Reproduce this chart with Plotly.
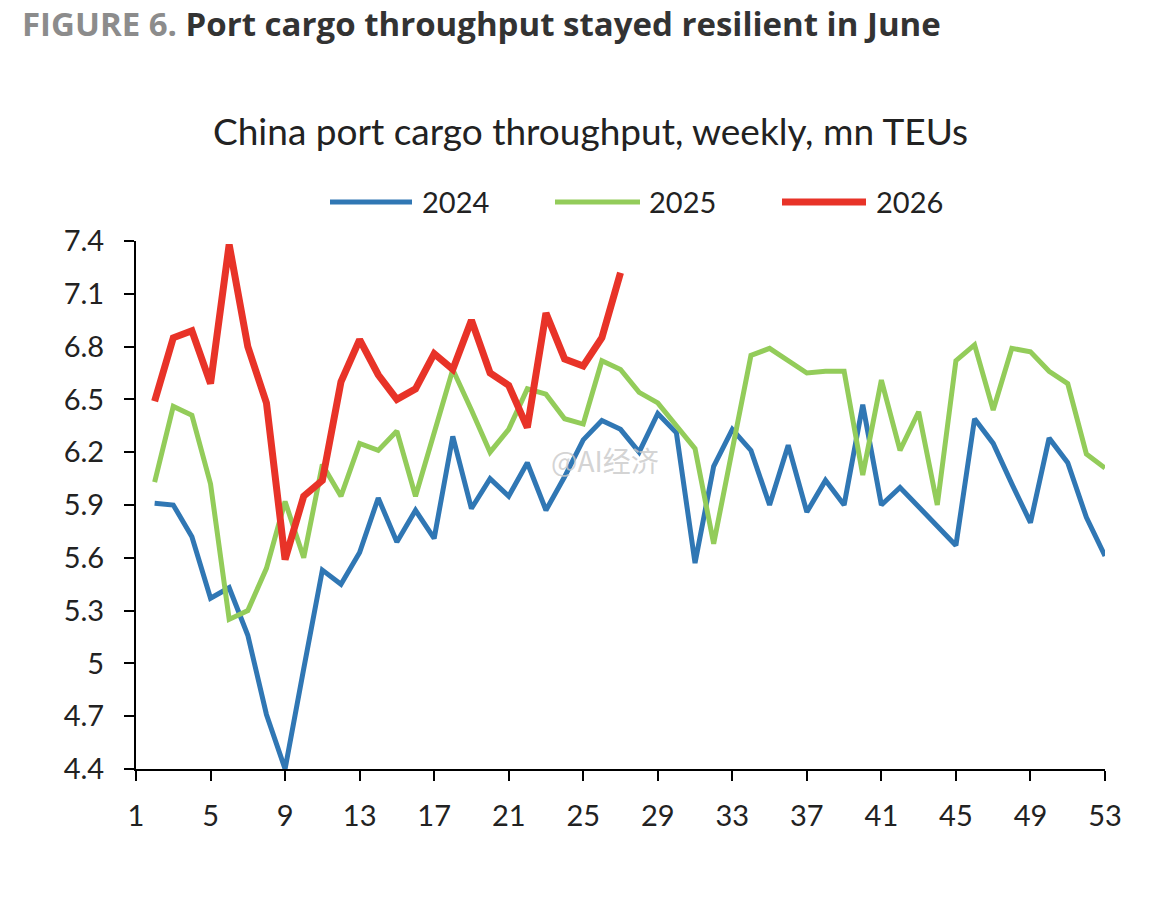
import plotly.graph_objects as go

weeks = list(range(2, 54))
y2024 = [5.91, 5.90, 5.72, 5.37, 5.43, 5.16, 4.71, 4.40, 4.97, 5.53, 5.45, 5.63, 5.94, 5.69,
         5.87, 5.71, 6.29, 5.88, 6.05, 5.95, 6.14, 5.87, 6.06, 6.27, 6.38, 6.33, 6.20, 6.42,
         6.31, 5.57, 6.12, 6.33, 6.21, 5.90, 6.24, 5.86, 6.04, 5.90, 6.47, 5.90, 6.00, 5.89,
         5.78, 5.67, 6.39, 6.25, 6.02, 5.80, 6.28, 6.14, 5.83, 5.61]
y2025 = [6.03, 6.46, 6.41, 6.02, 5.25, 5.30, 5.54, 5.92, 5.60, 6.13, 5.95, 6.25, 6.21, 6.32,
         5.95, 6.31, 6.67, 6.44, 6.20, 6.33, 6.56, 6.53, 6.39, 6.36, 6.72, 6.67, 6.54, 6.48,
         6.35, 6.22, 5.68, 6.21, 6.75, 6.79, 6.72, 6.65, 6.66, 6.66, 6.07, 6.61, 6.21, 6.43,
         5.90, 6.72, 6.81, 6.44, 6.79, 6.77, 6.66, 6.59, 6.19, 6.11]
weeks2026 = list(range(2, 28))
y2026 = [6.49, 6.85, 6.89, 6.59, 7.38, 6.80, 6.48, 5.59, 5.95, 6.04, 6.60, 6.84, 6.64, 6.50,
         6.56, 6.76, 6.67, 6.95, 6.65, 6.58, 6.34, 6.99, 6.73, 6.69, 6.85, 7.22]

x_ticks = list(range(1, 54, 4))
y_ticks = [4.4, 4.7, 5.0, 5.3, 5.6, 5.9, 6.2, 6.5, 6.8, 7.1, 7.4]
y_ticktext = ["4.4", "4.7", "5", "5.3", "5.6", "5.9", "6.2", "6.5", "6.8", "7.1", "7.4"]

series = [
    ("2024", weeks, y2024, "#3077B4", 5),
    ("2025", weeks, y2025, "#93CC5A", 5),
    ("2026", weeks2026, y2026, "#E83328", 7),
]

FONT = "Lato, Noto Sans, sans-serif"

fig = go.Figure()
for name, xs, ys, color, w in series:
    fig.add_trace(go.Scatter(x=xs, y=ys, mode="lines", name=name,
                             line=dict(color=color, width=w), showlegend=False))

# plot area geometry (pixels)
L, R, T, B = 136, 1105, 241, 769
W, H = 1170, 911

def px_x(px):
    return (px - L) / (R - L)

def px_y(py):
    return (B - py) / (B - T)

annotations = []
shapes = []
# legend drawn manually
leg = [(330, 412, 420), (555, 640, 647), (782, 866, 874)]
for (name, xs, ys, color, w), (x0, x1, xt) in zip(series, leg):
    shapes.append(dict(type="line", xref="paper", yref="paper",
                       x0=px_x(x0), x1=px_x(x1), y0=px_y(202), y1=px_y(202),
                       line=dict(color=color, width=w)))
    annotations.append(dict(text=name, xref="paper", yref="paper", x=px_x(xt), y=px_y(202),
                            xanchor="left", yanchor="middle", showarrow=False,
                            font=dict(family=FONT, size=29, color="#222222")))

annotations.append(dict(
    text="<b><span style='color:#8c8c8c'>FIGURE 6.</span> Port cargo throughput stayed resilient in June</b>",
    xref="paper", yref="paper", x=px_x(20), y=px_y(23), xanchor="left", yanchor="middle",
    showarrow=False, font=dict(family="Open Sans, sans-serif", size=33, color="#333333")))
annotations.append(dict(
    text="China port cargo throughput, weekly, mn TEUs",
    xref="paper", yref="paper", x=px_x(590), y=px_y(130), xanchor="center", yanchor="middle",
    showarrow=False, font=dict(family=FONT, size=37, color="#222222")))
annotations.append(dict(
    text="@AI经济", xref="paper", yref="paper", x=px_x(605), y=px_y(460),
    xanchor="center", yanchor="middle", showarrow=False,
    font=dict(family="Noto Sans CJK SC, sans-serif", size=28, color="rgba(200,200,200,0.8)")))

fig.update_layout(
    width=W, height=H,
    margin=dict(l=L, r=W - R, t=T, b=H - B, pad=0),
    paper_bgcolor="white", plot_bgcolor="white",
    annotations=annotations, shapes=shapes,
    xaxis=dict(range=[1, 53], tickvals=x_ticks, showgrid=False, zeroline=False,
               showline=True, linecolor="black", linewidth=2,
               ticks="outside", ticklen=10, tickwidth=2, tickcolor="black",
               ticklabelstandoff=10,
               tickfont=dict(family=FONT, size=29, color="#222222")),
    yaxis=dict(range=[4.4, 7.4], tickvals=y_ticks, ticktext=y_ticktext, showgrid=False,
               zeroline=False, showline=True, linecolor="black", linewidth=2,
               ticks="outside", ticklen=10, tickwidth=2, tickcolor="black",
               ticklabelstandoff=14,
               tickfont=dict(family=FONT, size=29, color="#222222")),
)

fig.write_html("out.html")
